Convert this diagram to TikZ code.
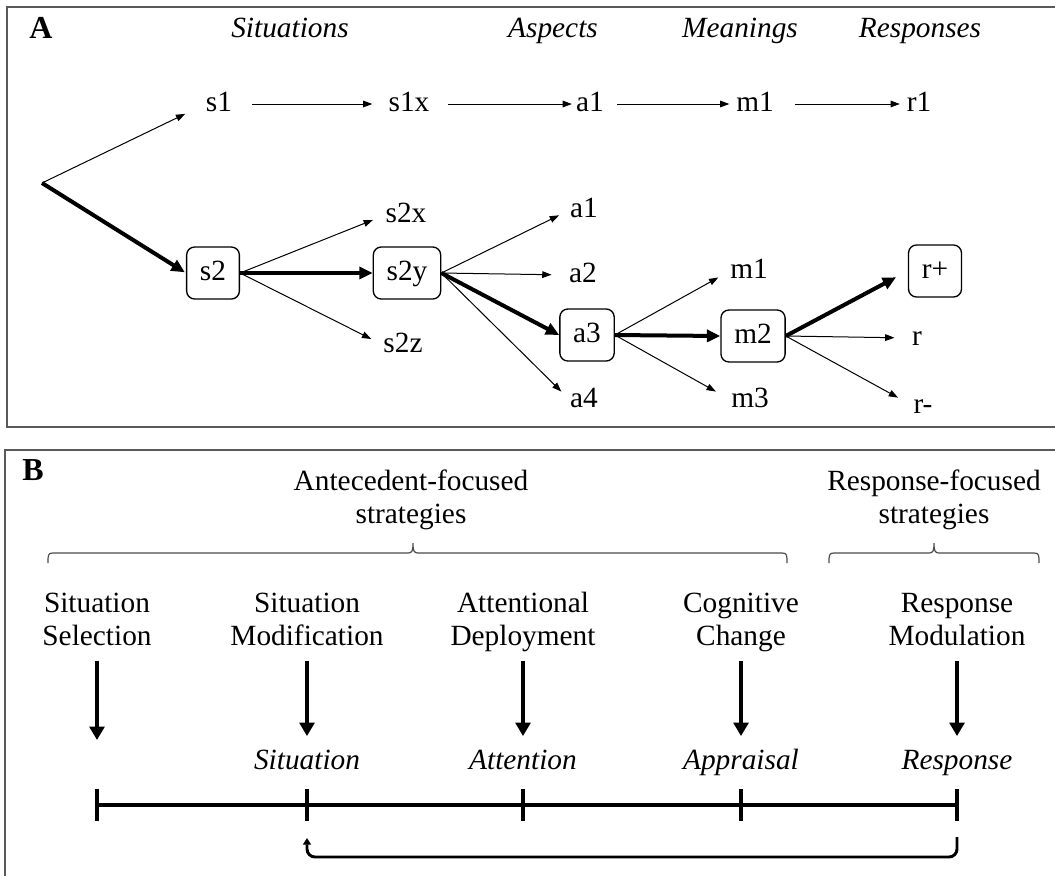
\documentclass[tikz,border=0pt]{standalone}
\usepackage{fontspec}
\setmainfont{Liberation Serif}
\usetikzlibrary{arrows.meta,calc}

\begin{document}
\begin{tikzpicture}[x=0.75pt,y=-0.75pt,
  font=\fontsize{22}{25}\selectfont,
  lbl/.style={inner sep=0pt, text height=15pt, text depth=4pt},
  ttl/.style={lbl, font=\fontsize{22}{25}\selectfont\itshape},
  panel/.style={lbl, font=\fontsize{24}{26}\selectfont\bfseries},
  box/.style={draw, line width=1pt, rounded corners=6pt, minimum height=39pt,
    inner xsep=10pt, inner ysep=0pt, text height=15pt, text depth=4pt},
  thinarr/.style={line width=0.75pt, -{Triangle[length=7pt,width=5pt]}},
  thickarr/.style={line width=3pt, -{Triangle[length=10pt,width=9pt]}},
  frame/.style={draw=black!65, line width=1pt},
  bracket/.style={draw=black!70, line width=0.9pt},
  strat/.style={align=center, inner sep=0pt},
  phase/.style={inner sep=0pt, font=\fontsize{22}{25}\selectfont\itshape},
  downarr/.style={line width=3.2pt, -{Triangle[length=10pt,width=11pt]}},
  axis/.style={line width=3pt},
  tickmark/.style={line width=3pt},
  looparr/.style={line width=2.2pt, rounded corners=6pt,
    -{Triangle[length=5pt,width=6pt]}},
]
\useasboundingbox (0,0) rectangle (1055,875);

% ---------- panel frames ----------
\draw[frame] (1070,7) -- (7,7) -- (7,427) -- (1070,427);
\draw[frame] (1070,450) -- (5,450) -- (5,890);

% ================= Panel A =================
\node[panel] (labA) at (41,31) {A};
\node[ttl] (tS) at (290,30) {Situations};
\node[ttl] (tA) at (553,30) {Aspects};
\node[ttl] (tM) at (740,30) {Meanings};
\node[ttl] (tR) at (920,30) {Responses};

\coordinate (o) at (42,183);

% upper branch
\node[lbl] (s1)  at (219,104) {s1};
\node[lbl] (s1x) at (409,104) {s1x};
\node[lbl] (a1t) at (590,104) {a1};
\node[lbl] (m1t) at (755,104) {m1};
\node[lbl] (r1)  at (919,104) {r1};

\draw[thinarr, shorten >=17pt] (o) -- (s1.west);
\draw[thinarr, shorten <=15pt, shorten >=12pt] (s1.east) -- (s1x.west);
\draw[thinarr, shorten <=14pt, shorten >=3pt] (s1x.east) -- (a1t.west);
\draw[thinarr, shorten <=10pt, shorten >=5pt] (a1t.east) -- (m1t.west);
\draw[thinarr, shorten <=16pt, shorten >=5pt] (m1t.east) -- (r1.west);

% lower branch: chosen path in boxes
\node[box] (s2)  at (213,273) {s2};
\node[box] (s2y) at (407,273) {s2y};
\node[box] (a3)  at (587,335) {a3};
\node[box] (m2)  at (753,336) {m2};
\node[box] (rp)  at (935,271) {r+};

% alternatives
\node[lbl] (s2x) at (406,215) {s2x};
\node[lbl] (s2z) at (403,345) {s2z};
\node[lbl] (a1)  at (584,210) {a1};
\node[lbl] (a2)  at (583,275) {a2};
\node[lbl] (a4)  at (584,400) {a4};
\node[lbl] (m1)  at (749,271) {m1};
\node[lbl] (m3)  at (750,400) {m3};
\node[lbl] (r)   at (917,338) {r};
\node[lbl] (rm)  at (923,406) {r-};

\draw[thinarr, shorten >=10pt] (s2.east) -- (s2x.west);
\draw[thinarr, shorten >=10pt] (s2.east) -- (s2z.west);
\draw[thinarr, shorten >=9pt]  (s2y.east) -- (a1.west);
\draw[thinarr, shorten >=13pt] (s2y.east) -- (a2.west);
\draw[thinarr, shorten >=9pt]  (s2y.east) -- (a4.west);
\draw[thinarr, shorten >=10pt] (a3.east) -- (m1.west);
\draw[thinarr, shorten >=13pt] (a3.east) -- (m3.west);
\draw[thinarr, shorten >=13pt] (m2.east) -- (r.west);
\draw[thinarr, shorten >=13pt] (m2.east) -- (rm.west);

\draw[thickarr, shorten >=1pt] (o) -- (s2.west);
\draw[thickarr] (s2.east) -- (s2y.west);
\draw[thickarr] (s2y.east) -- (a3.west);
\draw[thickarr] (a3.east) -- (m2.west);
\draw[thickarr, shorten >=10pt] (m2.east) -- (rp.west);

% ================= Panel B =================
\node[panel] (labB) at (33,473) {B};
\node[strat] (ant) at (411,500) {Antecedent-focused\\strategies};
\node[strat] (rf)  at (934,500) {Response-focused\\strategies};

% grouping brackets: flat bar, curled ends, small peak toward the heading
\draw[bracket] (48,563) .. controls (48,555) and (48,553) .. (53,553)
  -- (408,553) .. controls (412,553) and (413,551) .. (413,543)
  .. controls (413,551) and (414,553) .. (418,553)
  -- (782,553) .. controls (787,553) and (787,555) .. (787,563);
\draw[bracket] (829,563) .. controls (829,555) and (829,553) .. (834,553)
  -- (929,553) .. controls (933,553) and (934,551) .. (934,543)
  .. controls (934,551) and (935,553) .. (939,553)
  -- (1034,553) .. controls (1039,553) and (1039,555) .. (1039,563);

% timeline points
\coordinate (t1) at (97,805);
\coordinate (t2) at (307,805);
\coordinate (t3) at (523,805);
\coordinate (t4) at (741,805);
\coordinate (t5) at (957,805);

% strategies
\node[strat] (sel)  at (97,622)  {\strut Situation\\\strut Selection};
\node[strat] (mod)  at (307,622) {\strut Situation\\\strut Modification};
\node[strat] (att)  at (523,622) {\strut Attentional\\\strut Deployment};
\node[strat] (cog)  at (741,622) {\strut Cognitive\\\strut Change};
\node[strat] (rmod) at (957,622) {\strut Response\\\strut Modulation};

% process stages
\node[phase] (sit) at (307,763) {\strut Situation};
\node[phase] (atn) at (523,763) {\strut Attention};
\node[phase] (app) at (741,763) {\strut Appraisal};
\node[phase] (rsp) at (957,763) {\strut Response};
\coordinate (selend) at (97,740);

\draw[downarr, shorten <=4pt] (sel.south) -- (selend);
\draw[downarr, shorten <=4pt, shorten >=7.5pt] (mod.south) -- (sit.north);
\draw[downarr, shorten <=4pt, shorten >=7.5pt] (att.south) -- (atn.north);
\draw[downarr, shorten <=4pt, shorten >=7.5pt] (cog.south) -- (app.north);
\draw[downarr, shorten <=4pt, shorten >=7.5pt] (rmod.south) -- (rsp.north);

% timeline with ticks
\draw[axis] (t1) -- (t5);
\foreach \t in {t1,t2,t3,t4,t5}
  \draw[tickmark] ([yshift=12pt]\t) -- ([yshift=-12pt]\t);

% feedback loop
\draw[looparr] ([yshift=-24pt]t5) -- ++(0,20) -| ([yshift=-24.75pt]t2);
\end{tikzpicture}
\end{document}
